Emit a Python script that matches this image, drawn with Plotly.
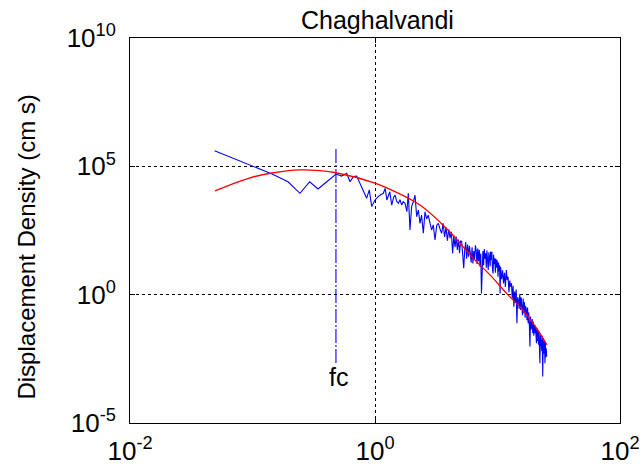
import plotly.graph_objects as go

# ---------------- data ----------------
# Observed displacement spectrum (blue), frequency in Hz, density as log10(cm s)
blue_freq_low = [0.049, 0.098, 0.146, 0.195, 0.244, 0.293, 0.343, 0.404, 0.457, 0.481,
                 0.535, 0.587, 0.625, 0.666, 0.709, 0.755, 0.802, 0.855, 0.898, 0.940,
                 1.00, 1.06, 1.12, 1.17, 1.21, 1.25, 1.32, 1.37, 1.42, 1.46,
                 1.50, 1.55, 1.60, 1.65, 1.70, 1.76, 1.82, 1.87, 1.93, 1.99,
                 2.05, 2.12, 2.19, 2.26, 2.33, 2.40, 2.48, 2.56, 2.64, 2.72,
                 2.81, 2.90, 2.99, 3.09, 3.19, 3.29, 3.40, 3.50]
blue_log_low = [5.61, 5.04, 4.69, 4.40, 3.95, 4.40, 4.12, 4.40, 4.62, 4.70,
                4.62, 4.73, 4.40, 4.60, 4.62, 4.34, 4.08, 3.76, 4.08, 3.43,
                3.69, 3.82, 3.90, 3.95, 4.14, 3.69, 4.01, 3.49, 3.80, 3.88,
                3.65, 3.56, 3.70, 3.49, 3.62, 3.56, 3.23, 3.95, 2.52, 3.43,
                3.60, 3.88, 3.04, 3.30, 2.78, 3.10, 2.39, 3.23, 2.95, 3.10,
                2.80, 2.52, 2.72, 2.13, 2.70, 2.78, 2.55, 2.39]

blue_freq_mid = [3.6, 3.7, 3.8, 3.9, 4.0, 4.1, 4.2, 4.3, 4.4, 4.5,
                 4.6, 4.7, 4.8, 4.9, 5.0, 5.1, 5.2, 5.3, 5.4, 5.5,
                 5.6, 5.7, 5.8, 5.9, 6.0, 6.1, 6.2, 6.3, 6.4, 6.5,
                 6.6, 6.7, 6.8, 6.9, 7.0, 7.1, 7.2, 7.3, 7.4, 7.5,
                 7.6, 7.7, 7.8, 7.9, 8.0, 8.1, 8.2, 8.3, 8.4, 8.5,
                 8.6, 8.7, 8.8, 8.9, 9.0, 9.1, 9.2, 9.3, 9.4, 9.5,
                 9.6, 9.7, 9.8, 9.9, 10.0, 10.1, 10.2, 10.3, 10.4, 10.5]
blue_log_mid = [2.78, 2.25, 2.62, 2.10, 2.55, 2.20, 2.45, 1.61, 2.30, 1.85,
                2.26, 1.74, 2.15, 1.62, 2.10, 2.07, 1.55, 1.03, 1.74, 2.05,
                1.40, 1.95, 1.48, 1.90, 1.61, 1.25, 1.85, 1.22, 1.70, 1.35,
                1.92, 1.74, 1.20, 1.80, 1.30, 1.75, 1.09, 1.60, 0.05, 1.22,
                1.70, 1.15, 1.78, 1.40, 1.61, 1.05, 1.72, 1.30, 0.96, 1.65,
                1.48, 1.10, 1.68, 1.35, 1.67, 1.00, 0.83, 1.55, 1.20, 1.42,
                0.85, 1.40, 1.05, 1.35, 1.22, 0.70, 1.25, 0.90, 1.15, 0.05]

blue_freq_high = [10.6, 10.8, 11.0, 11.2, 11.4, 11.6, 11.8, 12.0, 12.2, 12.4,
                  12.6, 12.8, 13.0, 13.2, 13.4, 13.6, 13.8, 14.0, 14.2, 14.4,
                  14.6, 14.8, 15.0, 15.2, 15.4, 15.6, 15.8, 16.0, 16.2, 16.4,
                  16.6, 16.8, 17.0, 17.2, 17.4, 17.6, 17.8, 18.0, 18.2, 18.4,
                  18.6, 18.8, 19.0, 19.2, 19.4, 19.6, 19.8, 20.0, 20.2, 20.4,
                  20.6, 20.8, 21.0, 21.2, 21.4, 21.6, 21.8, 22.0, 22.2, 22.4,
                  22.6, 22.8, 23.0, 23.2, 23.4, 23.6, 23.8, 24.0, 24.2, 24.4,
                  24.6, 24.8, 25.0, 25.2]
blue_log_high = [1.09, 0.60, 0.95, 0.44, 0.85, 0.30, 0.96, 0.57, 0.70, 0.10,
                 0.55, 0.31, 0.44, -0.15, 0.35, -0.47, 0.12, -0.30, 0.20, -1.11,
                 -0.10, -0.21, -0.55, 0.02, -0.60, -0.10, -0.34, -0.80, -0.15, -0.72,
                 -0.30, -0.90, -0.45, -0.60, -1.00, -0.50, -1.11, -0.70, -1.20, -2.02,
                 -0.85, -1.35, -1.25, -0.95, -1.50, -1.05, -1.60, -1.18, -1.50, -1.20,
                 -1.70, -1.89, -1.30, -1.80, -1.38, -1.95, -1.45, -1.85, -2.67, -1.50,
                 -2.00, -1.76, -2.20, -1.60, -3.19, -1.70, -2.30, -2.02, -1.80, -2.67,
                 -1.85, -2.45, -2.09, -2.41]

# Fitted source spectrum (red)
red_freq = [0.0494, 0.0955, 0.144, 0.244, 0.356, 0.481, 1.0, 1.25,
            2.33, 4.09, 6.31, 8.69, 11.97, 16.1, 20.2, 25.4]
red_log = [4.04, 4.55, 4.74, 4.86, 4.83, 4.75, 4.35, 4.16,
           3.49, 2.44, 1.43, 0.77, 0.03, -0.60, -1.22, -1.96]

# Corner frequency marker
fc_freq = 0.48
fc_log_top = 5.68
fc_log_bottom = -2.74

x_tick_vals = [0.01, 1, 100]
x_tick_text = ["10<sup>-2</sup>", "10<sup>0</sup>", "10<sup>2</sup>"]
y_tick_vals = [1e-5, 1, 1e5, 1e10]
y_tick_text = ["10<sup>-5</sup>", "10<sup>0</sup>", "10<sup>5</sup>", "10<sup>10</sup>"]

title_text = "Chaghalvandi"
y_title_text = "Displacement Density (cm s)"
fc_label = "fc"

# ---------------- figure ----------------
blue_freq = blue_freq_low + blue_freq_mid + blue_freq_high
blue_density = [10 ** v for v in (blue_log_low + blue_log_mid + blue_log_high)]
red_density = [10 ** v for v in red_log]

FONT = "Liberation Sans, Arial, sans-serif"

fig = go.Figure()
fig.add_trace(go.Scatter(x=blue_freq, y=blue_density, mode="lines",
                         line=dict(color="#0000FF", width=1.1), hoverinfo="skip"))
fig.add_trace(go.Scatter(x=[fc_freq, fc_freq], y=[10 ** fc_log_top, 10 ** fc_log_bottom],
                         mode="lines",
                         line=dict(color="#0000FF", width=1.1, dash="14px,2px,2px,2px"),
                         hoverinfo="skip"))
fig.add_trace(go.Scatter(x=red_freq, y=red_density, mode="lines",
                         line=dict(color="#FF0000", width=1.3, shape="spline"),
                         hoverinfo="skip"))

axis_common = dict(
    type="log", showline=True, linecolor="#000000", linewidth=1, mirror="ticks",
    ticks="inside", ticklen=5, tickcolor="#000000", automargin=False,
    showgrid=True, gridcolor="#000000", gridwidth=1, griddash="dot",
    zeroline=False, tickfont=dict(family=FONT, size=26, color="#000000"),
)

fig.update_layout(
    width=644, height=469,
    margin=dict(l=130, r=24, t=38, b=46, autoexpand=False),
    paper_bgcolor="white", plot_bgcolor="white",
    showlegend=False,
    font=dict(family=FONT, color="#000000"),
    xaxis=dict(range=[-2, 2], tickvals=x_tick_vals, ticktext=x_tick_text,
               ticklabelstandoff=5, **axis_common),
    yaxis=dict(range=[-5, 10], tickvals=y_tick_vals, ticktext=y_tick_text,
               ticklabelstandoff=8, **axis_common),
    annotations=[
        dict(text=title_text, xref="paper", yref="paper", x=0.506, y=1.047,
             xanchor="center", yanchor="middle", showarrow=False,
             font=dict(family=FONT, size=25, color="#000000")),
        dict(text=y_title_text, xref="paper", yref="paper", x=-0.212, y=0.456,
             xanchor="center", yanchor="middle", textangle=-90, showarrow=False,
             font=dict(family=FONT, size=24, color="#000000")),
        dict(text=fc_label, xref="x", yref="y", x=-0.302, y=-3.21,
             xanchor="center", yanchor="middle", showarrow=False,
             font=dict(family=FONT, size=25, color="#000000")),
    ],
)

fig.write_html("out.html", config={"displayModeBar": False},
               post_script="document.body.style.margin='0';document.body.style.overflow='hidden';")
